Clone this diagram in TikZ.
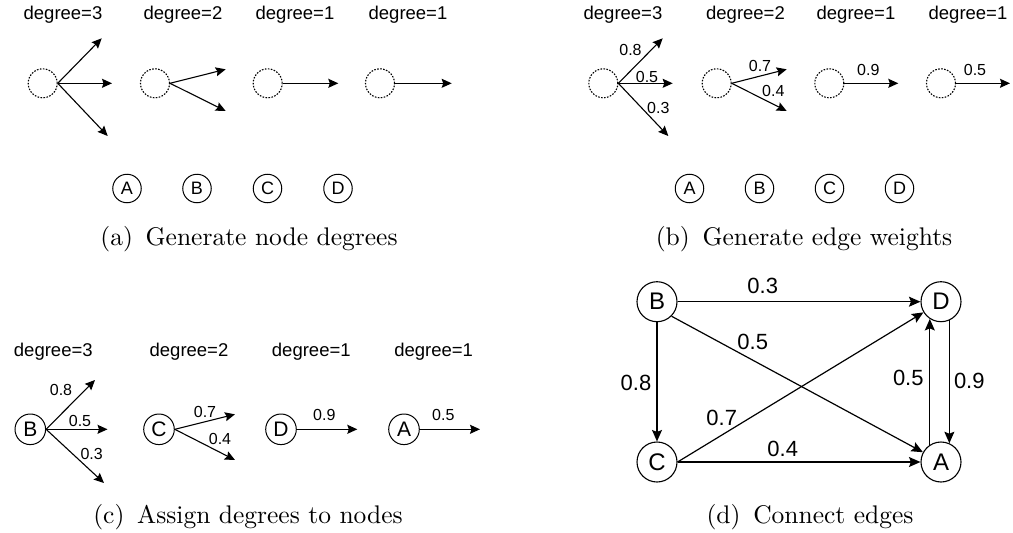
\documentclass[tikz,border=0pt]{standalone}
\usepackage{fontspec}
\newfontfamily\arialf{Liberation Sans}
\usetikzlibrary{arrows.meta}
\begin{document}
\begin{tikzpicture}[x=1pt,y=-1pt,
  deg/.style={font=\arialf\fontsize{18.5}{20}\selectfont, inner sep=0pt},
  wt/.style={font=\arialf\fontsize{16}{17}\selectfont, inner sep=0pt},
  dwt/.style={font=\arialf\fontsize{22}{23}\selectfont, inner sep=0pt},
  dcirc/.style={circle, draw, dash pattern=on 1.6pt off 1.4pt, minimum size=29pt, inner sep=0pt, line width=1.1pt},
  smallnd/.style={circle, draw, minimum size=28.5pt, inner sep=0pt, line width=1pt, font=\arialf\fontsize{18}{19}\selectfont},
  cnd/.style={circle, draw, minimum size=30.6pt, inner sep=0pt, line width=1pt, font=\arialf\fontsize{21}{22}\selectfont},
  dnd/.style={circle, draw, minimum size=40pt, inner sep=0pt, line width=1.1pt, font=\arialf\fontsize{24}{25}\selectfont},
  arr/.style={-{Stealth[length=10pt,width=9pt,inset=1.5pt]}, line width=1.1pt},
  darr/.style={-{Stealth[length=11.5pt,width=10pt,inset=2pt]}, line width=1.2pt},
  capt/.style={font=\fontsize{10}{12}\selectfont, scale=2.55, inner sep=0pt, anchor=base}
]
\useasboundingbox (0,0) rectangle (1013,533);

% ---------------- (a)
\node[deg] (ad1) at (63,15) {degree=3};
\node[deg] (ad2) at (183,15) {degree=2};
\node[deg] (ad3) at (295,15) {degree=1};
\node[deg] (ad4) at (408,15) {degree=1};
\node[dcirc] (ac1) at (42.7,83.3) {};
\node[dcirc] (ac2) at (155,83.3) {};
\node[dcirc] (ac3) at (267.7,83.3) {};
\node[dcirc] (ac4) at (380,83.3) {};
\coordinate (at11) at (101.7,38.3);
\coordinate (at12) at (112,83.3);
\coordinate (at13) at (107.7,136);
\coordinate (at21) at (225.7,69.3);
\coordinate (at22) at (225.7,111);
\coordinate (at3) at (338.3,83.3);
\coordinate (at4) at (451.7,83.3);
\draw[arr] (ac1.east) -- (at11);
\draw[arr] (ac1.east) -- (at12);
\draw[arr] (ac1.east) -- (at13);
\draw[arr] (ac2.east) -- (at21);
\draw[arr] (ac2.east) -- (at22);
\draw[arr] (ac3.east) -- (at3);
\draw[arr] (ac4.east) -- (at4);
\node[smallnd] (aA) at (127,188.5) {A};
\node[smallnd] (aB) at (197,188.5) {B};
\node[smallnd] (aC) at (267.5,188.5) {C};
\node[smallnd] (aD) at (338,188.5) {D};
\node[capt] (acap) at (249,245) {(a)\hspace{0.5em}Generate node degrees};

% ---------------- (b)
\node[deg] (bd1) at (623,15) {degree=3};
\node[deg] (bd2) at (745.5,15) {degree=2};
\node[deg] (bd3) at (856,15) {degree=1};
\node[deg] (bd4) at (968,15) {degree=1};
\node[dcirc] (bc1) at (603.3,83.3) {};
\node[dcirc] (bc2) at (716.7,83.3) {};
\node[dcirc] (bc3) at (829.3,83.3) {};
\node[dcirc] (bc4) at (941,83.3) {};
\coordinate (bt11) at (662.7,38.3);
\coordinate (bt12) at (672.7,83.3);
\coordinate (bt13) at (668.3,136);
\coordinate (bt21) at (786.7,69.3);
\coordinate (bt22) at (786.7,111);
\coordinate (bt3) at (898.3,83.3);
\coordinate (bt4) at (1010,83.3);
\draw[arr] (bc1.east) -- (bt11);
\draw[arr] (bc1.east) -- (bt12);
\draw[arr] (bc1.east) -- (bt13);
\draw[arr] (bc2.east) -- (bt21);
\draw[arr] (bc2.east) -- (bt22);
\draw[arr] (bc3.east) -- (bt3);
\draw[arr] (bc4.east) -- (bt4);
\node[wt] (bw1) at (630.5,49.5) {0.8};
\node[wt] (bw2) at (647,77) {0.5};
\node[wt] (bw3) at (658.3,108) {0.3};
\node[wt] (bw4) at (760,66) {0.7};
\node[wt] (bw5) at (773.3,90.7) {0.4};
\node[wt] (bw6) at (868.3,70) {0.9};
\node[wt] (bw7) at (975,70) {0.5};
\node[smallnd] (bA) at (689.5,188.5) {A};
\node[smallnd] (bB) at (759.5,188.5) {B};
\node[smallnd] (bC) at (829.5,188.5) {C};
\node[smallnd] (bD) at (899.5,188.5) {D};
\node[capt] (bcap) at (804,245) {(b)\hspace{0.5em}Generate edge weights};

% ---------------- (c)
\node[deg] (cd1) at (53.3,352) {degree=3};
\node[deg] (cd2) at (189,352) {degree=2};
\node[deg] (cd3) at (311.3,352) {degree=1};
\node[deg] (cd4) at (433.7,352) {degree=1};
\node[cnd] (cB) at (30.3,429.3) {B};
\node[cnd] (cC) at (159,429.3) {C};
\node[cnd] (cD) at (281,429.3) {D};
\node[cnd] (cA) at (404,429.3) {A};
\coordinate (ct11) at (95,380);
\coordinate (ct12) at (107.5,429.3);
\coordinate (ct13) at (104,483);
\coordinate (ct21) at (235,414.3);
\coordinate (ct22) at (235,460);
\coordinate (ct3) at (357.3,429.3);
\coordinate (ct4) at (480,429.3);
\draw[arr] (cB.east) -- (ct11);
\draw[arr] (cB.east) -- (ct12);
\draw[arr] (cB.east) -- (ct13);
\draw[arr] (cC.east) -- (ct21);
\draw[arr] (cC.east) -- (ct22);
\draw[arr] (cD.east) -- (ct3);
\draw[arr] (cA.east) -- (ct4);
\node[wt] (cw1) at (61,389.5) {0.8};
\node[wt] (cw2) at (80,421) {0.5};
\node[wt] (cw3) at (91.7,454) {0.3};
\node[wt] (cw4) at (205,411.7) {0.7};
\node[wt] (cw5) at (220,439) {0.4};
\node[wt] (cw6) at (324.3,415) {0.9};
\node[wt] (cw7) at (443.3,415) {0.5};
\node[capt] (ccap) at (248,523) {(c)\hspace{0.5em}Assign degrees to nodes};

% ---------------- (d)
\node[dnd] (dB) at (657,301.7) {B};
\node[dnd] (dD) at (941,301.7) {D};
\node[dnd] (dC) at (657,462) {C};
\node[dnd] (dA) at (941,462) {A};
\draw[darr] (dB) -- (dD);
\draw[darr] (dB.-45) -- (dA);
\draw[darr] (dB) -- (dC);
\draw[darr] (dC.east) -- (dD);
\draw[darr] (dC) -- (dA);
\draw[darr] (dA.123.4) -- (dD.-123.4);
\draw[darr] (dD.-66.4) -- (dA.66.4);
\node[dwt] (dw1) at (762.7,286) {0.3};
\node[dwt] (dw2) at (752.7,341.7) {0.5};
\node[dwt] (dw3) at (636,382.7) {0.8};
\node[dwt] (dw4) at (721.7,418.3) {0.7};
\node[dwt] (dw5) at (782.7,449.3) {0.4};
\node[dwt] (dw6) at (908.3,378) {0.5};
\node[dwt] (dw7) at (969.3,381) {0.9};
\node[capt] (dcap) at (810,523) {(d)\hspace{0.5em}Connect edges};
\end{tikzpicture}
\end{document}
